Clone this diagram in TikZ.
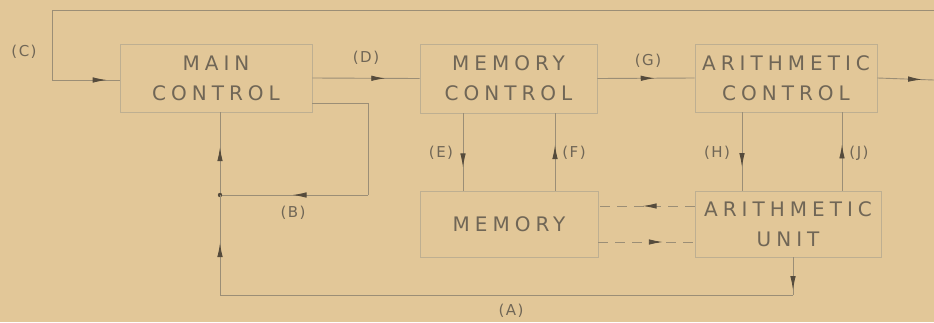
\documentclass[tikz,border=0pt]{standalone}
\usepackage{fontspec}
\setmainfont{DejaVu Sans}
\newfontfamily\boxfont[LetterSpace=25]{DejaVu Sans}
\newfontfamily\labfont[LetterSpace=10]{DejaVu Sans}
\usetikzlibrary{arrows.meta,decorations.markings}
\definecolor{paper}{RGB}{226,199,152}
\definecolor{boxcol}{RGB}{190,175,145}
\definecolor{linecol}{RGB}{155,142,118}
\definecolor{arrcol}{RGB}{85,75,60}
\definecolor{txtcol}{RGB}{112,102,86}
\tikzset{
  blk/.style={draw=boxcol, line width=0.9pt, align=center, text=txtcol,
    font=\boxfont\fontsize{20}{30}\selectfont, inner sep=0pt},
  ln/.style={draw=linecol, line width=0.9pt},
  lab/.style={text=txtcol, font=\labfont\fontsize{15}{18}\selectfont, inner sep=0pt},
  arr/.style={postaction={decorate, decoration={markings,
    mark=at position #1 with {\arrow[arrcol]{Latex[length=14pt,width=5.5pt]}}}}},
}
\begin{document}
\begin{tikzpicture}[x=1pt,y=-1pt]
\fill[paper] (0,0) rectangle (934,322);
\useasboundingbox (0,0) rectangle (934,322);
% blocks
\node[blk, minimum width=192pt, minimum height=68pt] (main) at (216,78) {MAIN\\CONTROL};
\node[blk, minimum width=177pt, minimum height=69pt] (memctl) at (508.5,78.5) {MEMORY\\CONTROL};
\node[blk, minimum width=182pt, minimum height=68pt] (arctl) at (786,78) {ARITHMETIC\\CONTROL};
\node[blk, minimum width=178pt, minimum height=66pt] (mem) at (509,224) {MEMORY};
\node[blk, minimum width=186pt, minimum height=66pt] (au) at (788,224) {ARITHMETIC\\UNIT};
% coordinates
\coordinate (rTop) at (934,10);
\coordinate (cTop) at (52,10);
\coordinate (cBot) at (52,80);
\coordinate (outR) at (934,80);
\coordinate (bR) at (368,103);
\coordinate (bJ) at (368,195);
\coordinate (jct) at (220,195);
\coordinate (aBR) at (793,295);
\coordinate (aBL) at (220,295);
\coordinate (eX) at (463,0);
\coordinate (fX) at (555,0);
\coordinate (hX) at (742,0);
\coordinate (jX) at (842,0);
\coordinate (upY) at (0,206);
\coordinate (loY) at (0,242);
% (C)
\draw[ln] (rTop) -- (cTop) -- (cBot);
\draw[ln, arr=0.81] (cBot) -- (main.west |- cBot);
% (D)
\draw[ln, arr=0.68] (main.east) -- (memctl.west);
% (G)
\draw[ln, arr=0.59] (memctl.east) -- (arctl.west);
% output
\draw[ln, arr=0.79] (arctl.east) -- (outR);
% (E) (F)
\draw[ln, arr=0.7] (memctl.south -| eX) -- (mem.north -| eX);
\draw[ln, arr=0.59] (mem.north -| fX) -- (memctl.south -| fX);
% (H) (J)
\draw[ln, arr=0.7] (arctl.south -| hX) -- (au.north -| hX);
\draw[ln, arr=0.59] (au.north -| jX) -- (arctl.south -| jX);
% (B)
\draw[ln] (main.east |- bR) -- (bR) -- (bJ);
\draw[ln, arr=0.51] (bJ) -- (jct);
\draw[ln, arr=0.58] (jct) -- (main.south -| jct);
\fill[arrcol] (jct) circle (2.2pt);
% (A)
\draw[ln, arr=0.87] (au.south -| aBR) -- (aBR);
\draw[ln] (aBR) -- (aBL);
\draw[ln, arr=0.52] (aBL) -- (jct);
% memory <-> arithmetic unit
\draw[ln, dashed, dash pattern=on 10pt off 7pt, arr=0.54] (au.west |- upY) -- (mem.east |- upY);
\draw[ln, dashed, dash pattern=on 10pt off 7pt, arr=0.67] (mem.east |- loY) -- (au.west |- loY);
% labels
\node[lab] (lC) at (24,52) {(C)};
\node[lab] (lD) at (366,58) {(D)};
\node[lab] (lG) at (648,61) {(G)};
\node[lab] (lE) at (441,153) {(E)};
\node[lab] (lF) at (574,153) {(F)};
\node[lab] (lH) at (717,153) {(H)};
\node[lab] (lJ) at (859,153) {(J)};
\node[lab] (lB) at (293,213) {(B)};
\node[lab] (lA) at (511,311) {(A)};
\end{tikzpicture}
\end{document}
